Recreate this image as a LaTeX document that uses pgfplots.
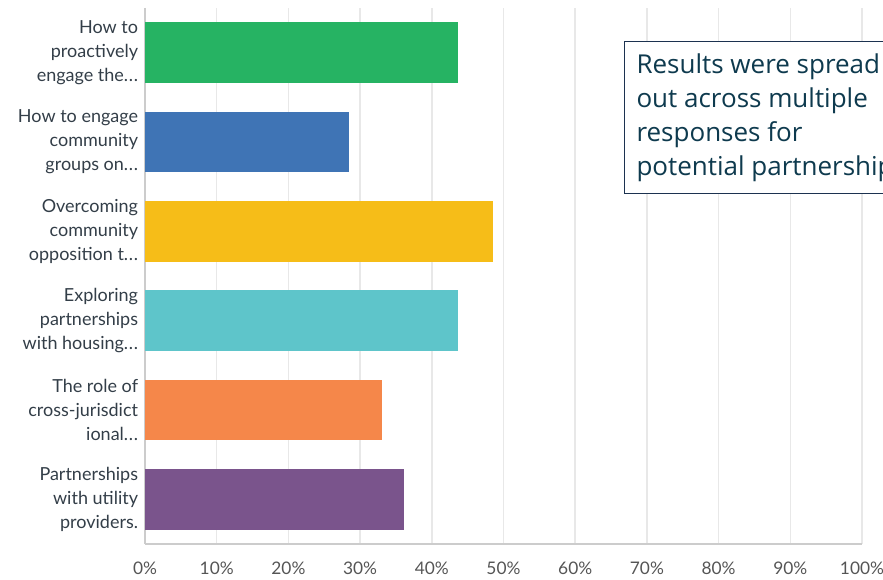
\documentclass[border=0pt]{standalone}
\usepackage{pgfplots}
\pgfplotsset{compat=1.18}
\usepackage{fontspec}
\setmainfont{Lato}
\newfontfamily\boxfont{Open Sans}
\definecolor{cgreen}{HTML}{26B363}
\definecolor{cblue}{HTML}{3F74B5}
\definecolor{cyellow}{HTML}{F6BD18}
\definecolor{cteal}{HTML}{5EC5CA}
\definecolor{corange}{HTML}{F5874A}
\definecolor{cpurple}{HTML}{7A548C}
\definecolor{labeltext}{HTML}{333E48}
\definecolor{ticktext}{HTML}{555555}
\definecolor{boxline}{HTML}{1C3250}
\definecolor{boxtext}{HTML}{0E3A4E}
\newcommand{\dd}{.\kern0.5pt.\kern0.5pt.}

\begin{document}
\begin{tikzpicture}
\clip (-108.75pt,-27pt) rectangle (553.5pt,408pt);
\path[use as bounding box] (-108.75pt,-27pt) rectangle (553.5pt,408pt);
\begin{axis}[
    at={(0,0)}, anchor=south west,
    scale only axis,
    width=537.75pt, height=402pt,
    xbar, bar width=0.68, bar shift=0pt,
    xmin=0, xmax=100,
    ymin=-0.5, ymax=5.5, y dir=reverse,
    xtick={0,10,...,100},
    xticklabel={\pgfmathprintnumber{\tick}\%},
    /pgf/number format/assume math mode=true,
    ytick={0,1,2,3,4,5},
    yticklabels={
        {How to\\proactively\\engage the\dd},
        {How to engage\\community\\groups on\dd},
        {Overcoming\\community\\opposition t\dd},
        {Exploring\\partnerships\\with housing\dd},
        {The role of\\cross-jurisdict\\ional\dd},
        {Partnerships\\with utility\\providers.}},
    yticklabel style={align=right, font=\fontsize{13.5}{18}\selectfont, text=labeltext, inner xsep=5pt},
    xticklabel style={font=\fontsize{13}{15}\selectfont, text=ticktext, yshift=-10pt},
    major tick length=0pt,
    xmajorgrids, grid style={draw=gray!18, line width=1.2pt},
    axis line style={draw=gray!40, line width=1pt},
    axis x line*=bottom, axis y line*=left,
    x axis line style={-}, y axis line style={-},
]
\addplot[fill=cgreen, draw=none] coordinates {(43.6,0)};
\addplot[fill=cblue, draw=none] coordinates {(28.5,1)};
\addplot[fill=cyellow, draw=none] coordinates {(48.5,2)};
\addplot[fill=cteal, draw=none] coordinates {(43.6,3)};
\addplot[fill=corange, draw=none] coordinates {(33.1,4)};
\addplot[fill=cpurple, draw=none] coordinates {(36.1,5)};
\end{axis}
\node[draw=boxline, line width=0.8pt, fill=white, anchor=north west,
      align=left, inner xsep=9pt, inner ysep=9pt, text=boxtext,
      font=\boxfont\fontsize{19.5}{25.5}\selectfont]
  at (359.25pt,377.25pt)
  {Results were spread\\out across multiple\\responses for\\potential partnerships};
\end{tikzpicture}
\end{document}
